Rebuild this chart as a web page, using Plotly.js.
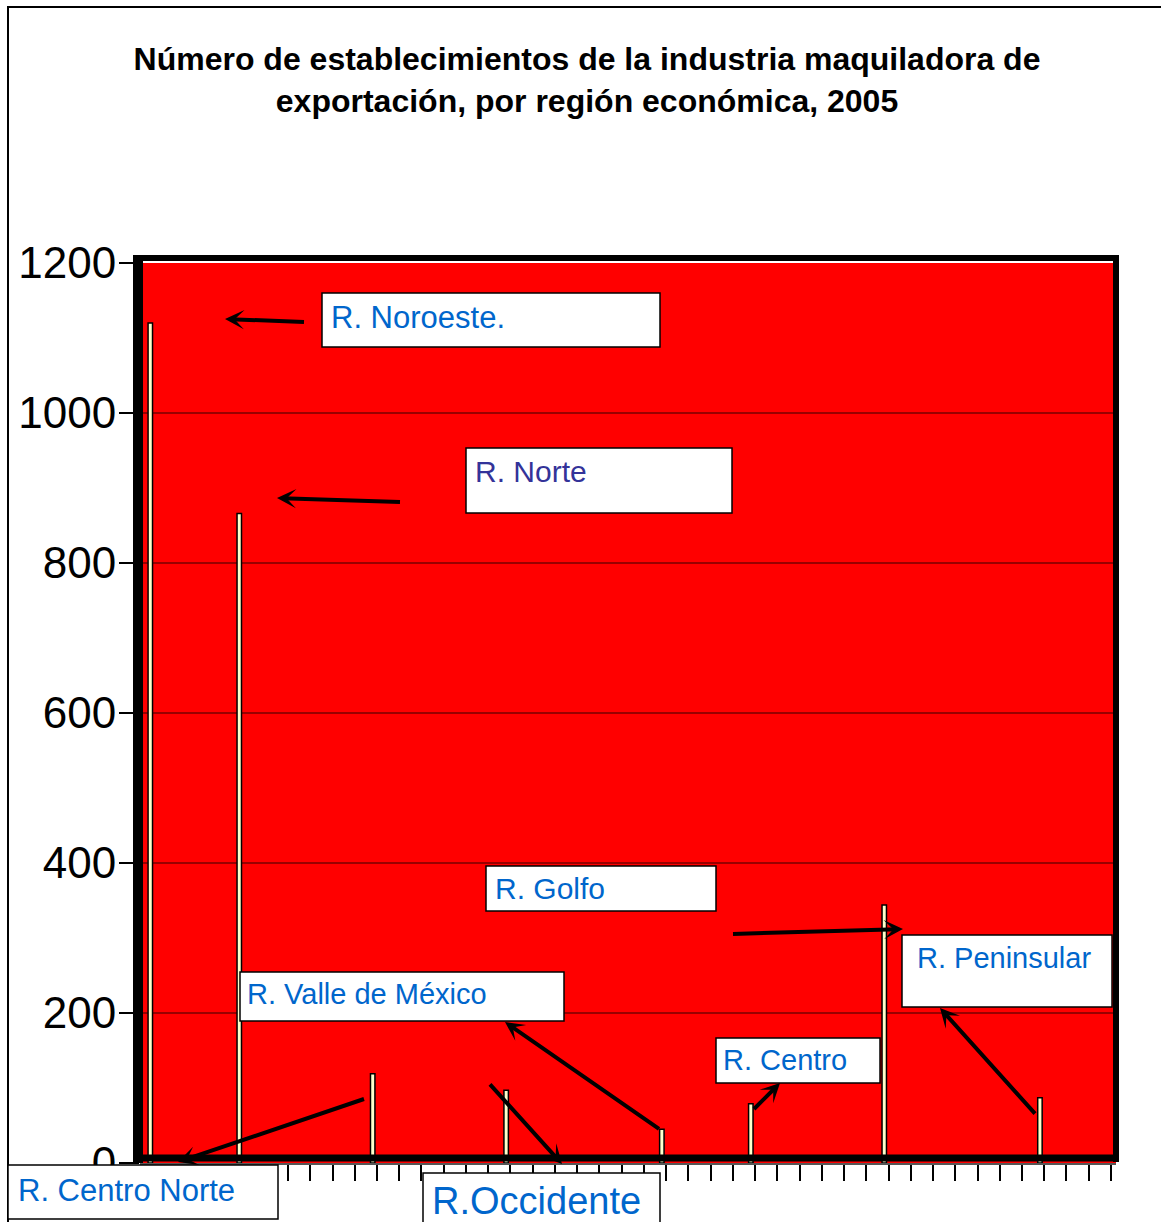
<!DOCTYPE html>
<html>
<head>
<meta charset="utf-8">
<script src="https://cdn.plot.ly/plotly-3.0.1.min.js"></script>
<style>html,body{margin:0;padding:0;background:#fff;}#chart{width:1161px;height:1222px;}</style>
</head>
<body>
<div id="chart"></div>
<script>
// ---- data ----
const categories = ['R. Noroeste', 'R. Norte', 'R. Centro Norte', 'R. Occidente', 'R. Valle de México', 'R. Centro', 'R. Golfo', 'R. Peninsular'];
const slots = [0, 4, 10, 16, 23, 27, 33, 40];
const values = [1120, 866, 119, 97, 45, 79, 344, 87];
const yTickVals = [0, 200, 400, 600, 800, 1000, 1200];
const yTickText = ['0', '200', '400', '600', '800', '1000', '1200'];
const titleText = 'Número de establecimientos de la industria maquiladora de<br>exportación, por región económica, 2005';
const labelTexts = ['R. Noroeste.', 'R. Norte', 'R. Golfo', 'R. Peninsular', 'R. Valle de México', 'R. Centro', 'R. Centro Norte', 'R.Occidente'];

// ---- geometry helpers (pixel -> paper) ----
const FW = 1161, FH = 1222;
const L = 140, R = 1116, T = 263, B = 1163;
const W = R - L, H = B - T;
const fx = p => (p - L) / W;
const fy = p => (B - p) / H;
const FONT = 'Arial, "Liberation Sans", sans-serif';

// label boxes: [x0, y0, x1, y1, textX, textCY, size, color]
const boxes = [
  [322, 293, 660, 347, 331, 317, 31, '#0066CC'],
  [466, 448, 732, 513, 475, 471, 30, '#333399'],
  [486, 866, 716, 911, 495, 889, 30, '#0066CC'],
  [902, 935, 1112, 1007, 917, 958, 29, '#0066CC'],
  [240, 972, 564, 1021, 247, 994, 29, '#0066CC'],
  [716, 1038, 880, 1083, 723, 1060, 29, '#0066CC'],
  [8, 1165, 278, 1219, 18, 1190, 31, '#0066CC'],
  [423, 1173, 660, 1245, 432, 1201, 38, '#0066CC']
];
// arrows: [headX, headY, tailX, tailY]
const arrows = [
  [225, 319, 307, 322],
  [277, 498, 403, 502],
  [903, 929, 730, 934],
  [505, 1022, 662, 1131],
  [562, 1164, 487, 1081],
  [178, 1162, 367, 1098],
  [780, 1083, 751, 1112],
  [940, 1008, 1038, 1117]
];

const shapes = [];
// outer frame
shapes.push({type: 'rect', xref: 'paper', yref: 'paper', x0: fx(8), x1: fx(1175), y0: fy(7), y1: fy(1240),
  line: {color: '#000', width: 2}, fillcolor: 'rgba(0,0,0,0)', layer: 'above'});
// plot frame
shapes.push({type: 'line', xref: 'paper', yref: 'paper', x0: fx(134), x1: fx(1119), y0: fy(258), y1: fy(258), line: {color: '#000', width: 6}, layer: 'above'});
shapes.push({type: 'line', xref: 'paper', yref: 'paper', x0: fx(1116), x1: fx(1116), y0: fy(256), y1: fy(1162), line: {color: '#000', width: 6}, layer: 'above'});
shapes.push({type: 'line', xref: 'paper', yref: 'paper', x0: fx(138), x1: fx(138), y0: fy(255), y1: fy(1163), line: {color: '#000', width: 10}, layer: 'above'});
shapes.push({type: 'line', xref: 'paper', yref: 'paper', x0: fx(134), x1: fx(1119), y0: fy(1158), y1: fy(1158), line: {color: '#000', width: 7}, layer: 'above'});
// label boxes
boxes.forEach(b => shapes.push({type: 'rect', xref: 'paper', yref: 'paper', x0: fx(b[0]), x1: fx(b[2]), y0: fy(b[1]), y1: fy(b[3]),
  fillcolor: '#FFFFFF', line: {color: '#000', width: 1.5}, layer: 'above'}));

const annotations = [];
boxes.forEach((b, i) => annotations.push({xref: 'paper', yref: 'paper', x: fx(b[4] - 2), y: fy(b[5]), xanchor: 'left', yanchor: 'middle',
  text: labelTexts[i], showarrow: false, font: {family: FONT, size: b[6], color: b[7]}}));
arrows.forEach(a => annotations.push({xref: 'paper', yref: 'paper', x: fx(a[0]), y: fy(a[1]), ax: a[2] - a[0], ay: a[3] - a[1],
  showarrow: true, arrowhead: 3, arrowsize: 0.8, arrowwidth: 4, arrowcolor: '#000', standoff: 0}));

const trace = {
  type: 'bar', x: slots, y: values, text: categories, textposition: 'none', hovertemplate: '%{text}: %{y}<extra></extra>',
  width: 0.2, marker: {color: '#FFFFCC', line: {color: '#000', width: 1.5}}
};

const layout = {
  width: FW, height: FH,
  margin: {l: L, r: FW - R, t: T, b: FH - B, pad: 0},
  paper_bgcolor: '#FFFFFF', plot_bgcolor: '#FF0000',
  showlegend: false,
  title: {text: '<b>' + titleText + '</b>', font: {family: FONT, size: 32, color: '#000'},
    x: 587 / FW, xanchor: 'center', xref: 'container', y: 1 - 70 / FH, yanchor: 'top', yref: 'container'},
  xaxis: {range: [-0.463, 43.42], tick0: 0.193, dtick: 1, ticks: 'outside', ticklen: 16, tickwidth: 2, tickcolor: '#000',
    showticklabels: false, showgrid: false, zeroline: false, showline: true, linecolor: '#555', linewidth: 2, fixedrange: true},
  yaxis: {range: [0, 1200], tickvals: yTickVals, ticktext: yTickText, ticks: 'outside', ticklen: 20, tickwidth: 1.5, tickcolor: '#000',
    showgrid: true, gridcolor: '#990000', gridwidth: 1.5, zeroline: false, showline: false, ticklabelstandoff: -6,
    tickfont: {family: FONT, size: 44, color: '#000'}, fixedrange: true},
  shapes: shapes,
  annotations: annotations
};

Plotly.newPlot('chart', [trace], layout, {displayModeBar: false, staticPlot: true});
</script>
</body>
</html>
